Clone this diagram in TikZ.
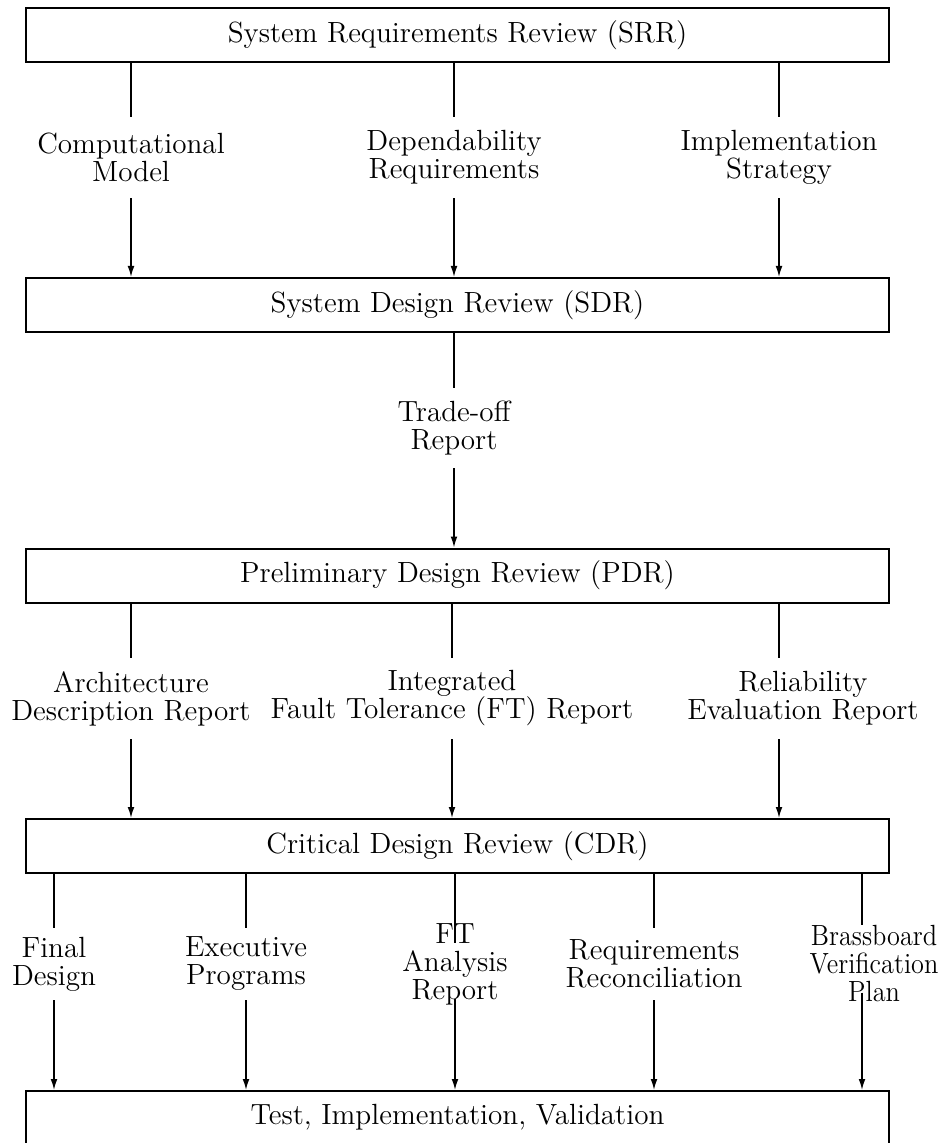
\documentclass[tikz,border=0pt]{standalone}
\usepackage{graphicx}
\usetikzlibrary{arrows.meta}
% body type used for every label and box
\newcommand\diagfont{\fontsize{14.6}{14}\selectfont}
% slightly condensed word, for the crowded right-hand label
\newcommand\squeeze[1]{\scalebox{0.9}[1]{#1}}
\begin{document}
\begin{tikzpicture}[x=0.5pt, y=-0.5pt,
  review/.style={draw, line width=1pt, minimum width=431.5pt,
    minimum height=27pt, inner sep=0pt, font=\diagfont},
  doc/.style={align=center, inner sep=0pt, font=\diagfont},
  wide/.style={minimum height=40.5pt},
  narrow/.style={minimum height=36pt},
  feed/.style={line width=0.75pt},
  flow/.style={line width=0.75pt, -{Latex[length=5.5pt,width=3.4pt]}}
]
\useasboundingbox (0,0) rectangle (941,1143);

% review milestones
\node[review] (srr) at (457.5,35) {System Requirements Review (SRR)};
\node[review] (sdr) at (457.5,305) {System Design Review (SDR)};
\node[review] (pdr) at (457.5,575.5) {Preliminary Design Review (PDR)};
\node[review] (cdr) at (457.5,846) {Critical Design Review (CDR)};
\node[review, anchor=north, minimum height=0pt, text height=16.5pt,
  text depth=15pt] (tiv) at (457.5,1090) {Test, Implementation, Validation};

% SRR -> SDR
\node[doc, wide] (cm) at (131,157.5) {Computational\\Model};
\node[doc, wide] (dr) at (454,157.5) {Dependability\\Requirements};
\node[doc, wide] (is) at (779,157.5) {Implementation\\Strategy};
\foreach \d in {cm,dr,is}{
  \draw[feed] (srr.south -| \d) -- (\d.north);
  \draw[flow] (\d.south) -- (sdr.north -| \d);
}

% SDR -> PDR
\node[doc, minimum height=40pt] (tr) at (454,428) {Trade-off\\Report};
\draw[feed] (sdr.south -| tr) -- (tr.north);
\draw[flow] (tr.south) -- (pdr.north -| tr);

% PDR -> CDR
\node[doc, wide] (adr) at (131,698.5) {Architecture\\Description Report};
\node[doc, wide] (ift) at (452,698.5) {Integrated\\Fault Tolerance (FT) Report};
\node[doc, wide] (rer) at (803,698.5) {Reliability\\Evaluation Report};
\coordinate (rercol) at (779,698.5);
\foreach \d in {adr,ift}{
  \draw[feed] (pdr.south -| \d) -- (\d.north);
  \draw[flow] (\d.south) -- (cdr.north -| \d);
}
\draw[feed] (pdr.south -| rercol) -- (rer.north -| rercol);
\draw[flow] (rer.south -| rercol) -- (cdr.north -| rercol);

% CDR -> test, implementation, validation
\node[doc, narrow] (fd) at (54,964) {Final\\Design};
\node[doc, narrow] (ep) at (246,964) {Executive\\Programs};
\node[doc, narrow] (fta) at (455,964) {FT\\Analysis\\Report};
\node[doc, narrow] (rr) at (654,964) {Requirements\\Reconciliation};
\node[doc, narrow] (bvp) at (874,964)
  {\squeeze{Brassboard}\\\squeeze{Verification}\\\squeeze{Plan}};
\coordinate (bvpcol) at (862,964);
\foreach \d in {fd,ep,rr}{
  \draw[feed] (cdr.south -| \d) -- (\d.north);
  \draw[flow] (\d.south) -- (tiv.north -| \d);
}
\draw[feed, shorten >=-10pt] (cdr.south -| fta) -- (fta.north);
\draw[flow, shorten <=-3pt] (fta.south) -- (tiv.north -| fta);
\draw[feed] (cdr.south -| bvpcol) -- (bvp.north -| bvpcol);
\draw[flow, shorten <=-5pt] (bvp.south -| bvpcol) -- (tiv.north -| bvpcol);
\end{tikzpicture}
\end{document}
